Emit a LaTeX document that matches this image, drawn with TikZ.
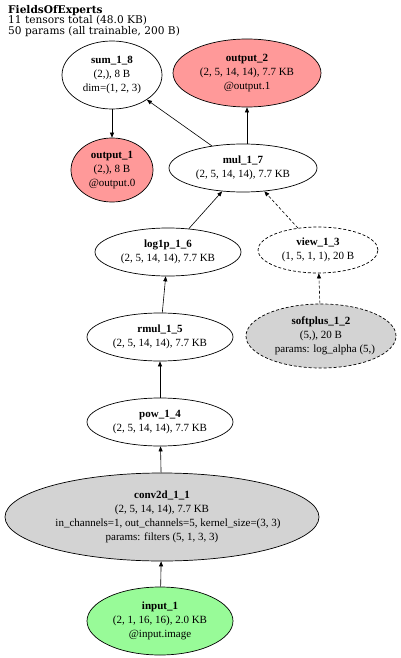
\documentclass[tikz,border=0pt]{standalone}
\usepackage{fontspec}
\setmainfont{Liberation Serif}
\newfontfamily\hdrfont{DejaVu Serif}
\usetikzlibrary{shapes.geometric,arrows.meta}
\definecolor{outfill}{RGB}{255,153,153}
\definecolor{infill}{RGB}{152,251,152}
\definecolor{opfill}{RGB}{211,211,211}
\newcommand\gnode[6]{%
  \node[#2, minimum width=#4, minimum height=#5] (#1) at (#3) {};
  \node[txt] (#1-t) at (#3) {#6};}
\begin{document}
\begin{tikzpicture}[x=1pt,y=-1pt,
  ell/.style={ellipse, draw, line width=0.7pt, inner sep=0pt},
  plain/.style={ell, fill=white},
  outn/.style={ell, fill=outfill},
  inn/.style={ell, fill=infill},
  opn/.style={ell, fill=opfill},
  dsh/.style={dash pattern=on 3pt off 2pt},
  txt/.style={align=center, inner sep=0pt, font=\fontsize{11}{14}\selectfont},
  edge/.style={line width=0.6pt, -{Triangle[length=5pt,width=4pt]}},
  hdr/.style={align=left, inner sep=0pt, anchor=north west, font=\hdrfont\fontsize{10.6}{10.7}\selectfont}]
\useasboundingbox (0,0) rectangle (400,658);
\node[hdr] (title) at (8,5) {\textbf{FieldsOfExperts}\\11 tensors total (48.0 KB)\\50 params (all trainable, 200 B)};
\gnode{sum}{plain}{112,75}{100}{68}{\textbf{sum\_1\_8}\\(2,), 8 B\\dim=(1, 2, 3)}
\gnode{out2}{outn}{247,73}{148}{68}{\textbf{output\_2}\\(2, 5, 14, 14), 7.7 KB\\@output.1}
\gnode{out1}{outn}{112,170}{82}{64}{\textbf{output\_1}\\(2,), 8 B\\@output.0}
\gnode{mul}{plain}{243,168}{148}{48}{\textbf{mul\_1\_7}\\(2, 5, 14, 14), 7.7 KB}
\gnode{log}{plain}{168,252}{146}{48}{\textbf{log1p\_1\_6}\\(2, 5, 14, 14), 7.7 KB}
\gnode{view}{plain,dsh}{318,250}{120}{46}{\textbf{view\_1\_3}\\(1, 5, 1, 1), 20 B}
\gnode{rmul}{plain}{160,337}{146}{48}{\textbf{rmul\_1\_5}\\(2, 5, 14, 14), 7.7 KB}
\gnode{soft}{opn,dsh}{321,336}{150}{64}{\textbf{softplus\_1\_2}\\(5,), 20 B\\\hspace*{8pt}params: log\_alpha (5,)}
\gnode{pow}{plain}{160,422}{146}{48}{\textbf{pow\_1\_4}\\(2, 5, 14, 14), 7.7 KB}
\gnode{conv}{opn}{162,517}{314}{88}{\textbf{conv2d\_1\_1}\\(2, 5, 14, 14), 7.7 KB\\\hspace*{12pt}in\_channels=1, out\_channels=5, kernel\_size=(3, 3)\\params: filters (5, 1, 3, 3)}
\gnode{inp}{inn}{160,621}{146}{68}{\textbf{input\_1}\\(2, 1, 16, 16), 2.0 KB\\@input.image}
\draw[edge] (sum) -- (out1);
\draw[edge] (mul) -- (sum);
\draw[edge] (mul.north -| out2) -- (out2);
\draw[edge] (log) -- (mul);
\draw[edge,dsh] (view) -- (mul);
\draw[edge] (rmul) -- (log);
\draw[edge,dsh] (soft) -- (view);
\draw[edge] (pow) -- (rmul);
\draw[edge] (conv) -- (pow);
\draw[edge] (inp) -- (conv);
\end{tikzpicture}
\end{document}
